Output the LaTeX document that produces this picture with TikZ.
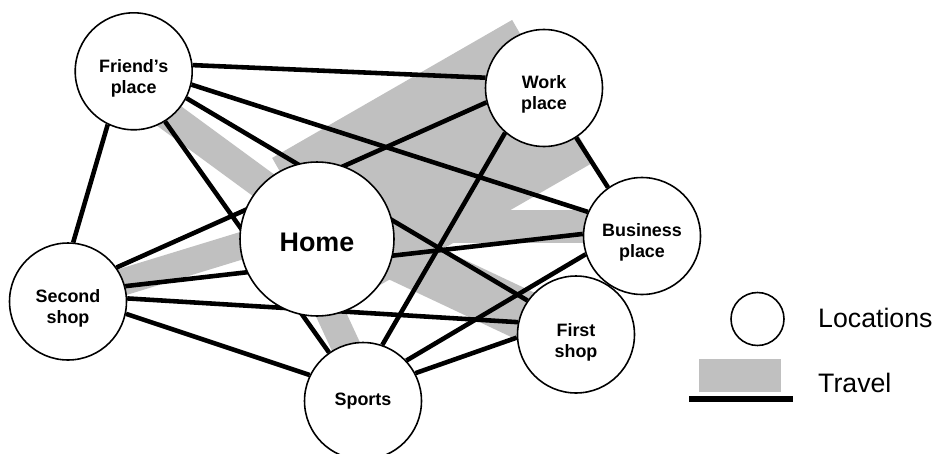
\documentclass[tikz,border=0pt]{standalone}
\usepackage{fontspec}
\setmainfont{Liberation Sans}
\usetikzlibrary{backgrounds}

\definecolor{travelgray}{RGB}{192,192,192}

\begin{document}
\begin{tikzpicture}[x=0.02cm, y=-0.02cm,
    place/.style={circle, draw, line width=0.9pt, fill=white, inner sep=0pt, minimum size=2.34cm},
    placetext/.style={align=center, font=\fontsize{10.2}{12}\selectfont\bfseries},
    trip/.style={line width=2.6pt},
    travel/.style={travelgray, line cap=butt},
    legtext/.style={anchor=west, font=\fontsize{15.2}{18}\selectfont}]
  \useasboundingbox (0,0) rectangle (932,453);
  % Orte
  \node[place] (friend) at (133.7,71.3) {};
  \node[place] (work) at (544,88) {};
  \node[place] (business) at (642,236) {};
  \node[place, minimum size=3.08cm] (home) at (317,239) {};
  \node[place] (second) at (68,301.5) {};
  \node[place] (first) at (576,334.5) {};
  \node[place] (sports) at (363,401) {};
  \node[placetext] (friendtxt) at ([yshift=-0.15cm]friend) {Friend’s\\place};
  \node[placetext] (worktxt) at ([yshift=-0.12cm]work) {Work\\place};
  \node[placetext] (businesstxt) at ([yshift=-0.12cm]business) {Business\\place};
  \node[placetext, font=\fontsize{15.3}{18}\selectfont\bfseries] (hometxt) at ([yshift=-0.07cm]home) {Home};
  \node[placetext] (secondtxt) at ([yshift=-0.13cm]second) {Second\\shop};
  \node[placetext] (firsttxt) at ([yshift=-0.15cm]first) {First\\shop};
  \node[placetext] (sportstxt) at (sports) {Sports};
  \begin{pgfonlayer}{background}
    % Wege (grau)
    \foreach \ax/\ay/\bx/\by/\w in {150/102/300/212/0.6, 313/229/553/91/3.28, 380/226.5/625/226.5/0.66,
      330/224/563.5/334/1.0, 316/282/354/364/0.58, 108.4/286.4/296/229/0.54}
    {
      \draw[travel, line width=\w cm] (\ax,\ay) -- (\bx,\by);
    }
    % Fahrten
    \foreach \a/\b in {friend.6/work.170, friend.-13/business.156, friend.-27.5/first.145,
      friend.-58/sports.125, friend.-116/second.85, second.35.5/work.194, second.15/business.178,
      second.3.4/first.168.6, second.-12.4/sports.154.7, work.-131.5/sports.71.6,
      work.-57.4/business.125.3, business.-123.8/first.56.2, sports.43.6/business.198.7,
      sports.28.7/first.183.5}
    {
      \draw[trip] (\a) -- (\b);
    }
  \end{pgfonlayer}
  % Legende
  \node[place, minimum size=1.06cm] (legcirc) at (757.5,319) {};
  \node[legtext] (loctxt) at (812,318) {Locations};
  \fill[travelgray] (699,359) rectangle (781,392);
  \coordinate (legA) at (689,399);
  \coordinate (legB) at (793,399);
  \draw[trip, line width=2.9pt] (legA) -- (legB);
  \node[legtext] (traveltxt) at (812,383) {Travel};
\end{tikzpicture}
\end{document}
